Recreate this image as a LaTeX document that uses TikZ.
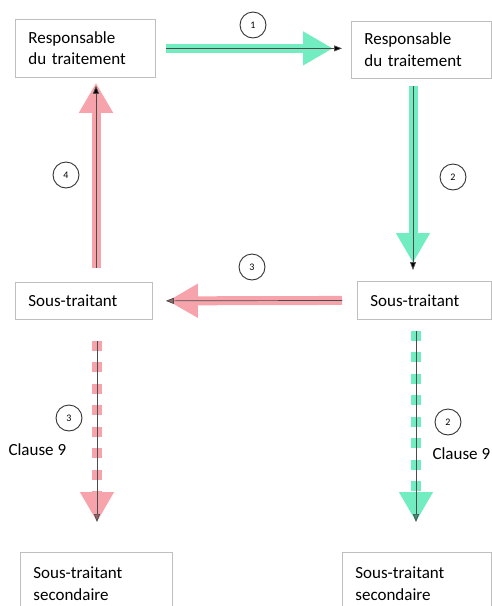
\documentclass[tikz,border=0pt]{standalone}
\usepackage{fontspec}
\setmainfont{Carlito}
\usetikzlibrary{arrows.meta}
\definecolor{mint}{RGB}{114,237,193}
\definecolor{rose}{RGB}{247,163,172}
\tikzset{
  box/.style={draw=black!25, line width=0.8pt, anchor=north west, align=left,
    inner xsep=13pt, inner ysep=0pt, font=\fontsize{17}{21.5}\selectfont},
  num/.style={circle, draw=black!80, line width=0.9pt, minimum size=26pt,
    inner sep=0pt, font=\fontsize{10}{10}\selectfont},
  fat/.style={draw=#1, line width=9pt, -{Triangle[width=32pt,length=30pt,fill=#1]}},
  fatdash/.style={fat=#1, line width=10pt, dash pattern=on 10pt off 11.5pt},
  thin/.style={draw=black!70, line width=0.7pt, -{Triangle[width=6pt,length=8pt,fill=#1]}},
  clause/.style={anchor=west, font=\fontsize{17}{20}\selectfont}
}
\begin{document}
\begin{tikzpicture}[x=1pt,y=-1pt]
\useasboundingbox (0,0) rectangle (491,606);

\node[box, text width=114pt, minimum height=58pt] (rt1) at (15,19) {Responsable\\du traitement};
\node[box, text width=114pt, minimum height=57pt] (rt2) at (351,21) {Responsable\\du traitement};
\node[box, text width=111pt, minimum height=37pt] (st1) at (15,282) {Sous-traitant};
\node[box, text width=108pt, minimum height=38pt] (st2) at (357,281) {Sous-traitant};
\node[box, text width=126pt, minimum height=63pt] (sts1) at (20,552) {Sous-traitant\\secondaire};
\node[box, text width=123pt, minimum height=63pt] (sts2) at (342,552) {Sous-traitant\\secondaire};

\draw[fat=mint, shorten <=10pt, shorten >=18pt] (rt1.east) -- (rt1.east -| rt2.west);
\draw[thin=black, shorten <=10pt, shorten >=9pt] (rt1.east) -- (rt1.east -| rt2.west);

\draw[fat=mint, shorten <=7pt, shorten >=18pt] ([xshift=62pt]rt2.south west) -- ([xshift=56pt]st2.north west);
\draw[thin=black, shorten <=7pt, shorten >=11pt] ([xshift=62pt]rt2.south west) -- ([xshift=56pt]st2.north west);

\draw[fat=rose, shorten <=15pt, shorten >=15pt] (st2.west) -- (st1.east);
\draw[thin=rose!60!black, shorten <=15pt, shorten >=13pt] (st2.west) -- (st1.east);

\draw[fat=rose, shorten <=14pt, shorten >=5pt] ([xshift=81pt]st1.north west) -- ([xshift=81pt]rt1.south west);
\draw[thin=black, shorten <=14pt, shorten >=8pt] ([xshift=81pt]st1.north west) -- ([xshift=81pt]rt1.south west);

\draw[fatdash=rose, shorten <=21pt, shorten >=30pt] ([xshift=82pt]st1.south west) -- ([xshift=77pt]sts1.north west);
\draw[thin=rose!60!black, shorten <=21pt, shorten >=30pt] ([xshift=82pt]st1.south west) -- ([xshift=77pt]sts1.north west);

\draw[fatdash=mint, shorten <=11pt, shorten >=30pt] ([xshift=59pt]st2.south west) -- ([xshift=74pt]sts2.north west);
\draw[thin=mint!60!black, shorten <=11pt, shorten >=30pt] ([xshift=59pt]st2.south west) -- ([xshift=74pt]sts2.north west);

\node[num] (n1) at (253,25) {1};
\node[num] (n2) at (453,177) {2};
\node[num] (n3) at (252,267) {3};
\node[num] (n4) at (66,175) {4};
\node[num] (n5) at (69,418) {3};
\node[num] (n6) at (448,422) {2};

\node[clause] (c1) at (5,450) {Clause 9};
\node[clause] (c2) at (429,454) {Clause 9};
\end{tikzpicture}
\end{document}
